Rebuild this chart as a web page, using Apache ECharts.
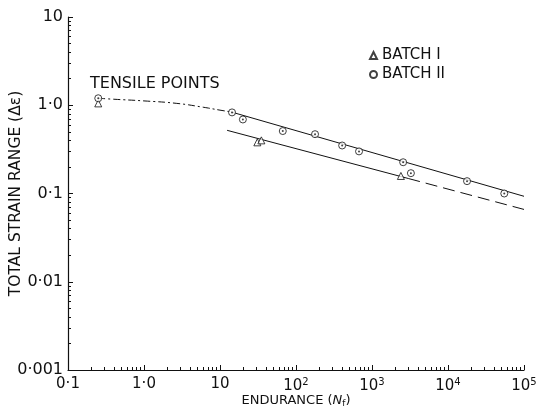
<!DOCTYPE html>
<html>
<head>
<meta charset="utf-8">
<script src="https://cdn.jsdelivr.net/npm/echarts@6/dist/echarts.min.js"></script>
<style>
  html, body { margin: 0; padding: 0; background: #fff; }
  #chart { width: 549px; height: 411px; }
</style>
</head>
<body>
<div id="chart"></div>
<script>
var xTickLabels = ['0·1', '1·0', '10', '10{s|2}', '10{s|3}', '10{s|4}', '10{s|5}'];
var yTickLabels = ['0·001', '0·01', '0·1', '1·0', '10'];

// batch I (triangles)
var batch1Points = [[0.25, 1.05], [31, 0.38], [35, 0.40], [2400, 0.158]];
// batch II (circles)
var batch2Points = [[0.25, 1.2], [14.4, 0.83], [20, 0.69], [67, 0.51], [178, 0.47],
  [405, 0.35], [675, 0.30], [2570, 0.226], [3250, 0.17], [17800, 0.138], [55000, 0.10]];

// fitted lines
var curve2Dashed = [[0.25, 1.2], [0.4, 1.17], [1, 1.12], [2.7, 1.05], [6, 0.95], [10, 0.88], [14, 0.84]];
var line2Solid = [[14, 0.84], [100000, 0.093]];
var line1Solid = [[12.4, 0.52], [3000, 0.148]];
var line1Dashed = [[3000, 0.148], [100000, 0.066]];

var font = 'DejaVu Sans';
var ink = '#111';

var myChart = echarts.init(document.getElementById('chart'));
option = {
    animation: false,
    backgroundColor: '#fff',
    textStyle: { fontFamily: font, color: ink },
    grid: { left: 68, right: 25, top: 17, bottom: 41, outerBoundsMode: 'none' },
    legend: {
        orient: 'vertical',
        left: 364,
        top: 43,
        itemWidth: 7,
        itemHeight: 7,
        itemGap: 4,
        textStyle: { fontFamily: font, fontSize: 15, color: ink },
        data: ['BATCH I', 'BATCH II']
    },
    xAxis: {
        type: 'log',
        logBase: 10,
        min: 0.1,
        max: 100000,
        name: 'ENDURANCE ({i|N}{sub|f})',
        nameLocation: 'middle',
        nameGap: 23,
        nameMoveOverlap: false,
        nameTextStyle: {
            fontFamily: font, fontSize: 13, color: ink,
            rich: {
                i: { fontStyle: 'italic', fontSize: 13, fontFamily: font },
                sub: { fontSize: 9, verticalAlign: 'bottom', padding: [6, 0, 0, 0], fontFamily: font }
            }
        },
        axisLine: { lineStyle: { color: ink, width: 1.2 } },
        axisTick: { inside: true, length: 5, lineStyle: { color: ink } },
        minorTick: { show: true, splitNumber: 9, length: 3, lineStyle: { color: ink } },
        splitLine: { show: false },
        axisLabel: {
            margin: 7,
            fontSize: 15,
            color: ink,
            formatter: function (v) {
                return xTickLabels[Math.round(Math.log10(v)) + 1];
            },
            rich: { s: { fontSize: 10, verticalAlign: 'top', padding: [0, 0, 9, 0] } }
        }
    },
    yAxis: {
        type: 'log',
        logBase: 10,
        min: 0.001,
        max: 10,
        name: 'TOTAL STRAIN RANGE (Δε)',
        nameLocation: 'middle',
        nameGap: 44,
        nameMoveOverlap: false,
        nameTextStyle: { fontFamily: font, fontSize: 15.5, color: ink },
        axisLine: { lineStyle: { color: ink, width: 1.2 } },
        axisTick: { inside: true, length: 5, lineStyle: { color: ink } },
        minorTick: { show: true, splitNumber: 9, length: 3, lineStyle: { color: ink } },
        splitLine: { show: false },
        axisLabel: {
            margin: 5,
            fontSize: 16,
            color: ink,
            formatter: function (v) {
                return yTickLabels[Math.round(Math.log10(v)) + 3];
            }
        }
    },
    graphic: [{
        type: 'text',
        left: 90,
        top: 76,
        style: { text: 'TENSILE POINTS', font: '16px ' + font, fill: ink }
    }],
    series: [
        {
            type: 'line', data: curve2Dashed, smooth: true, symbol: 'none', silent: true,
            lineStyle: { color: ink, width: 1, type: [7, 3, 2, 3] }
        },
        {
            type: 'line', data: line2Solid, symbol: 'none', silent: true,
            lineStyle: { color: ink, width: 1 }
        },
        {
            type: 'line', data: line1Solid, symbol: 'none', silent: true,
            lineStyle: { color: ink, width: 1 }
        },
        {
            type: 'line', data: line1Dashed, symbol: 'none', silent: true,
            lineStyle: { color: ink, width: 1, type: [12, 6] }
        },
        {
            name: 'BATCH I', type: 'scatter', data: batch1Points,
            symbol: 'triangle', symbolSize: 7,
            itemStyle: { color: '#fff', borderColor: ink, borderWidth: 1 }, z: 5
        },
        {
            name: 'BATCH II', type: 'scatter', data: batch2Points,
            symbol: 'circle', symbolSize: 7,
            itemStyle: { color: '#fff', borderColor: ink, borderWidth: 1 }, z: 5
        },
        {
            type: 'scatter', data: batch2Points, silent: true,
            symbol: 'circle', symbolSize: 2,
            itemStyle: { color: ink }, z: 6
        }
    ]
};
myChart.setOption(option);
</script>
</body>
</html>
